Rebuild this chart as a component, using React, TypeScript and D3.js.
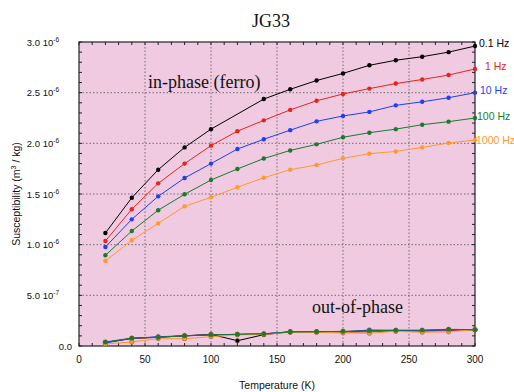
import React from "react";
import * as d3 from "d3";

const temps = [20, 40, 60, 80, 100, 120, 140, 160, 180, 200, 220, 240, 260, 280, 300];

// in-phase susceptibility (1e-6 m3/kg); null = no measurement
const inPhase01 = [1.115, 1.463, 1.74, 1.96, 2.14, null, 2.437, 2.533, 2.62, 2.69, 2.77, 2.82, 2.855, 2.9, 2.96];
const inPhase1 = [1.036, 1.35, 1.605, 1.8, 1.977, 2.12, 2.227, 2.33, 2.42, 2.487, 2.54, 2.59, 2.63, 2.674, 2.734];
const inPhase10 = [0.977, 1.25, 1.477, 1.658, 1.8, 1.944, 2.04, 2.13, 2.217, 2.27, 2.31, 2.375, 2.41, 2.45, 2.5];
const inPhase100 = [0.895, 1.135, 1.34, 1.497, 1.638, 1.747, 1.85, 1.93, 1.99, 2.06, 2.105, 2.14, 2.184, 2.214, 2.25];
const inPhase1000 = [0.839, 1.043, 1.21, 1.378, 1.467, 1.566, 1.66, 1.74, 1.786, 1.852, 1.898, 1.92, 1.96, 2.003, 2.033];

// out-of-phase susceptibility (1e-6 m3/kg)
const outPhase01 = [0.035, 0.075, 0.088, 0.1, 0.115, 0.052, 0.112, 0.14, 0.14, 0.14, 0.15, 0.15, 0.152, 0.16, 0.16];
const outPhase1 = [0.035, 0.075, 0.085, 0.1, 0.11, 0.115, 0.12, 0.14, 0.14, 0.135, 0.14, 0.148, 0.145, 0.152, 0.16];
const outPhase10 = [0.03, 0.075, 0.092, 0.1, 0.11, 0.115, 0.12, 0.14, 0.14, 0.14, 0.158, 0.155, 0.152, 0.16, 0.16];
const outPhase100 = [0.04, 0.078, 0.085, 0.102, 0.11, 0.115, 0.12, 0.138, 0.14, 0.145, 0.15, 0.155, 0.157, 0.165, 0.16];
const outPhase1000 = [0.02, 0.04, 0.072, 0.072, 0.092, 0.11, 0.115, 0.135, 0.135, 0.13, 0.125, 0.145, 0.135, 0.14, 0.16];

const freqLabels = ["0.1 Hz", "1 Hz", "10 Hz", "100 Hz", "1000 Hz"];
const colors = ["#000000", "#e8231c", "#1f3ff0", "#197a2c", "#ff9a2e"];

const xTickValues = [0, 50, 100, 150, 200, 250, 300];
const yTickValues = [0, 0.5, 1.0, 1.5, 2.0, 2.5, 3.0];
const yTickMantissa = ["0.0", "5.0", "1.0", "1.5", "2.0", "2.5", "3.0"];
const yTickExp = ["", "-7", "-6", "-6", "-6", "-6", "-6"];

const W = 514;
const H = 392;
const mL = 79;
const mR = 39;
const mT = 42;
const mB = 46;

const sans = "'Liberation Sans', Arial, sans-serif";
const serif = "'Liberation Serif', 'Times New Roman', serif";

type Pt = [number, number];

export default function App() {
  const x = d3.scaleLinear([0, 300], [mL, W - mR]);
  const y = d3.scaleLinear([0, 3.0], [H - mB, mT]);

  const inSeries = [inPhase01, inPhase1, inPhase10, inPhase100, inPhase1000];
  const outSeries = [outPhase01, outPhase1, outPhase10, outPhase1000, outPhase100];
  const outColors = [colors[0], colors[1], colors[2], colors[4], colors[3]];

  // missing points are skipped, the line joins the neighbours
  const toPts = (s: (number | null)[]): Pt[] =>
    s
      .map((v, i) => [temps[i], v] as [number, number | null])
      .filter((p) => p[1] != null) as Pt[];

  const line = d3
    .line<Pt>()
    .x((d) => x(d[0]))
    .y((d) => y(d[1]));

  const minorX = x.ticks(30);
  const minorY = y.ticks(30);
  const x0 = x.range()[0];
  const x1 = x.range()[1];
  const y0 = y.range()[0];
  const y1 = y.range()[1];

  // label positions near the last points on the right edge
  const labelY = [47, 70, 94, 120, 144];
  const labelX = [479, 485, 480, 477, 476];

  return (
    <svg
      width={W}
      height={H}
      style={{ position: "absolute", top: 0, left: 0, background: "#fff" }}
    >
      <rect x={x0} y={y1} width={x1 - x0} height={y0 - y1} fill="#efcae0" />

      {/* grid */}
      <g stroke="#555" strokeWidth={0.8} strokeDasharray="1.5,2">
        {xTickValues.slice(1, -1).map((t) => (
          <line key={`gx${t}`} x1={x(t)} x2={x(t)} y1={y0} y2={y1} />
        ))}
        {yTickValues.slice(1, -1).map((t) => (
          <line key={`gy${t}`} x1={x0} x2={x1} y1={y(t)} y2={y(t)} />
        ))}
      </g>

      {/* minor ticks on all sides */}
      <g stroke="#222" strokeWidth={1}>
        {minorX.map((t) => (
          <g key={`tx${t}`}>
            <line x1={x(t)} x2={x(t)} y1={y0} y2={y0 - 3} />
            <line x1={x(t)} x2={x(t)} y1={y1} y2={y1 + 3} />
          </g>
        ))}
        {minorY.map((t) => (
          <g key={`ty${t}`}>
            <line x1={x0} x2={x0 + 3} y1={y(t)} y2={y(t)} />
            <line x1={x1} x2={x1 - 3} y1={y(t)} y2={y(t)} />
          </g>
        ))}
      </g>

      <rect
        x={x0}
        y={y1}
        width={x1 - x0}
        height={y0 - y1}
        fill="none"
        stroke="#222"
        strokeWidth={1.2}
      />

      {/* in-phase */}
      {inSeries.map((s, k) => (
        <g key={`in${k}`}>
          <path d={line(toPts(s)) || ""} fill="none" stroke={colors[k]} strokeWidth={1} />
          {toPts(s).map((p, i) => (
            <circle key={i} cx={x(p[0])} cy={y(p[1])} r={2.2} fill={colors[k]} />
          ))}
        </g>
      ))}

      {/* out-of-phase */}
      {outSeries.map((s, k) => (
        <g key={`out${k}`}>
          <path d={line(toPts(s)) || ""} fill="none" stroke={outColors[k]} strokeWidth={1} />
          {toPts(s).map((p, i) => (
            <circle
              key={i}
              cx={x(p[0])}
              cy={y(p[1])}
              r={2.2}
              fill={outColors[k]}
              stroke="#6b6b2a"
              strokeWidth={0.5}
            />
          ))}
        </g>
      ))}

      {/* x tick labels */}
      {xTickValues.map((t) => (
        <text
          key={`xl${t}`}
          x={x(t)}
          y={y0 + 17}
          textAnchor="middle"
          fontFamily={sans}
          fontSize={10}
          fill="#111"
        >
          {t}
        </text>
      ))}

      {/* y tick labels */}
      {yTickValues.map((t, i) => (
        <text
          key={`yl${t}`}
          x={yTickExp[i] ? x0 - 20 : x0 - 7}
          y={y(t) + 3.5}
          textAnchor="end"
          fontFamily={sans}
          fontSize={9.5}
          fill="#111"
        >
          {yTickMantissa[i]}
          {yTickExp[i] ? " 10" : ""}
          {yTickExp[i] ? (
            <tspan fontSize={6.5} dy={-4}>
              {yTickExp[i]}
            </tspan>
          ) : null}
        </text>
      ))}

      {/* series labels */}
      {freqLabels.map((l, k) => (
        <text
          key={l}
          x={labelX[k]}
          y={labelY[k]}
          fontFamily={sans}
          fontSize={10.5}
          fill={colors[k]}
        >
          {l}
        </text>
      ))}

      <text x={271} y={27} textAnchor="middle" fontFamily={serif} fontSize={18} fill="#111">
        JG33
      </text>
      <text x={148} y={88} fontFamily={serif} fontSize={18} fill="#111">
        in-phase (ferro)
      </text>
      <text x={312} y={313} fontFamily={serif} fontSize={18} fill="#111">
        out-of-phase
      </text>

      <text
        x={277}
        y={389}
        textAnchor="middle"
        fontFamily={sans}
        fontSize={10.5}
        fill="#111"
      >
        Temperature (K)
      </text>
      <text
        transform={`translate(20,${(y0 + y1) / 2}) rotate(-90)`}
        textAnchor="middle"
        fontFamily={sans}
        fontSize={10.5}
        fill="#111"
      >
        Susceptibility (m
        <tspan fontSize={7} dy={-4}>
          3
        </tspan>
        <tspan dy={4}> / kg)</tspan>
      </text>
    </svg>
  );
}
